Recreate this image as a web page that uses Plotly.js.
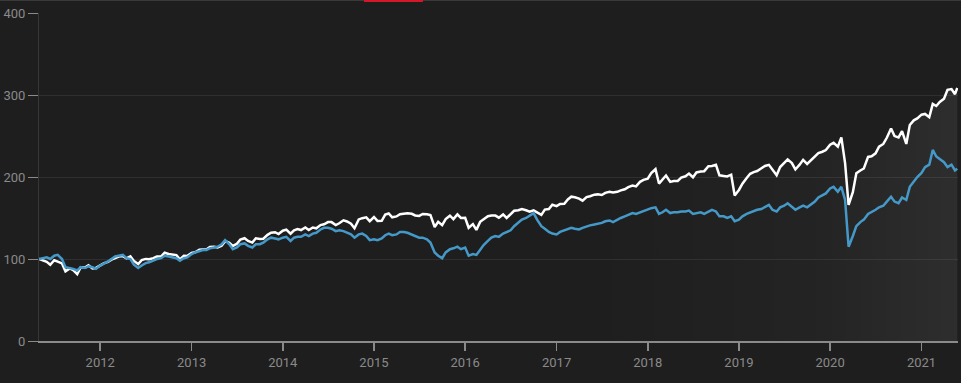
<!DOCTYPE html>
<html><head><meta charset="utf-8">
<script src="https://cdn.plot.ly/plotly-3.0.1.min.js"></script>
<style>html,body{margin:0;padding:0;background:#1e1e1e;}#c{width:961px;height:383px;}</style>
</head><body><div id="c"></div>
<script>
// semi-monthly observations (1st and 15th), May 2011 - May 2021, plus final point
const whiteValues = [
 100.0,98.3,96.6,93.0,98.5,96.7,94.6,85.0,88.5,86.5,81.5,89.9,89.5,92.4,88.5,89.1,
 92.4,94.7,96.4,99.2,101.0,103.0,103.5,100.7,103.2,97.7,93.9,98.6,100.1,99.6,101.0,103.2,103.3,107.6,106.1,105.8,104.8,99.4,104.0,103.8,
 107.4,108.2,111.2,111.6,111.5,114.6,114.8,114.0,116.2,121.8,119.8,116.0,118.6,123.6,125.3,122.1,120.0,125.3,124.5,124.8,129.5,132.1,132.7,130.4,
 134.5,135.8,130.9,135.0,136.6,135.3,138.5,135.3,138.4,137.4,141.4,142.3,145.0,145.0,141.4,143.6,147.2,145.8,143.0,137.5,148.3,149.8,150.8,146.1,
 151.2,146.4,146.6,154.1,155.5,150.8,151.9,154.7,154.9,155.9,155.1,153.1,152.6,154.9,154.6,153.6,139.0,145.3,141.3,148.6,152.8,148.6,154.4,150.1,
 150.2,138.1,142.5,135.5,145.3,148.1,152.2,152.9,152.9,150.4,154.3,150.0,154.4,158.8,159.4,160.9,159.4,157.7,159.3,156.7,153.8,160.2,161.0,166.2,
 164.5,167.2,167.4,172.6,176.0,175.2,173.6,171.1,175.5,176.5,178.5,178.8,178.0,180.7,181.9,181.0,181.9,183.7,185.1,187.6,189.5,188.5,194.1,196.5,
 198.0,204.7,209.5,192.0,196.7,201.8,194.0,195.2,195.1,199.2,200.9,204.2,199.7,205.6,206.7,207.1,213.2,213.4,214.8,202.1,201.3,200.6,202.8,177.5,
 184.2,191.8,198.8,203.9,206.0,207.3,210.7,213.4,214.8,209.4,202.2,212.1,217.8,221.5,217.0,209.2,215.0,220.9,216.0,220.1,225.3,229.2,230.8,232.8,
 239.4,241.7,237.0,248.3,217.0,166.0,181.5,204.5,207.9,210.4,224.5,225.3,228.9,237.0,240.3,247.8,259.1,249.9,248.3,255.9,240.3,263.4,269.1,271.4,
 276.0,276.9,273.0,289.1,286.6,291.5,295.4,306.4,307.2,301.0,308.5
];
const blueValues = [
 100,101,102,100,104,105,100,90,89,88,86,90,89,91,90,88,
 92,94,97,100,103,104,105,101,100,93,89,92,95,96,98,100,101,104,103,102,101,98,101,102,
 106,108,110,111,111,113,114,115,118,123,118,112,114,118,119,116,114,118,118,120,124,126,125,124,
 126,127,122,126,127,127,130,128,131,132,136,138,138,137,134,135,134,132,130,126,130,131,128,123,
 124,123,125,129,131,129,130,133,133,132,130,128,126,126,124,120,108,104,101,108,112,113,115,112,
 114,104,106,105,112,117,122,126,128,127,131,133,135,140,145,148,150,153,156,148,140,137,133,131,
 130,133,135,137,138,137,136,138,140,141,142,143,144,146,147,145,148,150,152,154,156,155,157,158,
 160,162,163,155,157,160,156,157,157,158,158,159,155,156,157,155,158,160,158,152,152,150,152,146,
 148,152,155,157,158,160,161,163,166,160,158,163,165,168,164,160,163,165,163,166,170,175,178,180,
 186,188,182,188,172,115,128,140,145,148,155,157,160,163,165,170,176,170,168,175,172,188,195,200,
 205,212,215,233,225,222,218,212,215,208,210
];
const yTicks = [0,100,200,300,400];
const xTickYears = ['2012','2013','2014','2015','2016','2017','2018','2019','2020','2021'];

const dates = [];
for (let y = 2011; y <= 2021; y++) {
  for (let m = 1; m <= 12; m++) {
    for (const d of [1, 15]) {
      if (y === 2011 && m < 5) continue;
      if (y === 2021 && m > 5) continue;
      dates.push(y + '-' + String(m).padStart(2,'0') + '-' + String(d).padStart(2,'0'));
    }
  }
}
dates.push('2021-05-24');

const traces = [
  {x: dates, y: whiteValues, type:'scatter', mode:'lines',
   line:{color:'#ffffff', width:2.5},
   fill:'tozeroy',
   fillgradient:{type:'horizontal', colorscale:[[0,'rgba(255,255,255,0)'],[0.6,'rgba(255,255,255,0)'],[0.85,'rgba(255,255,255,0.025)'],[1,'rgba(255,255,255,0.07)']]},
   hoverinfo:'skip'},
  {x: dates, y: blueValues, type:'scatter', mode:'lines',
   line:{color:'#4599c8', width:2.5}, hoverinfo:'skip'}
];

const layout = {
  width:961, height:383,
  margin:{l:39, r:3, t:13, b:42},
  paper_bgcolor:'#1e1e1e', plot_bgcolor:'#1e1e1e',
  showlegend:false, hovermode:false,
  font:{family:'Roboto, "Noto Sans", sans-serif', size:13, color:'#8a8a8a'},
  xaxis:{type:'date', range:['2011-05-01','2021-05-27'],
    tickvals: xTickYears.map(y => y + '-01-01'), ticktext: xTickYears,
    showgrid:false, zeroline:false, showline:true, linecolor:'#8a8a8a', linewidth:2,
    ticks:'outside', ticklen:8, tickcolor:'#8a8a8a', tickwidth:1.5,
    tickfont:{size:13, color:'#8a8a8a'}},
  yaxis:{range:[0,400], tickvals:yTicks, showgrid:true, gridcolor:'#2f2f2f', gridwidth:1,
    zeroline:false, showline:true, linecolor:'#363636', linewidth:1,
    ticks:'outside', ticklen:10, tickcolor:'#8a8a8a', tickwidth:1,
    tickfont:{size:13, color:'#8a8a8a'}},
  shapes:[
    {type:'rect', xref:'paper', yref:'paper', x0:-0.05, x1:1.01, y0:1.0366, y1:1.0396, fillcolor:'#3a3a3a', line:{width:0}},
    {type:'rect', xref:'paper', yref:'paper', x0:0.3537, x1:0.4178, y0:1.0335, y1:1.0396, fillcolor:'#d4182a', line:{width:0}}
  ]
};
Plotly.newPlot('c', traces, layout, {displayModeBar:false, staticPlot:true});
</script></body></html>
